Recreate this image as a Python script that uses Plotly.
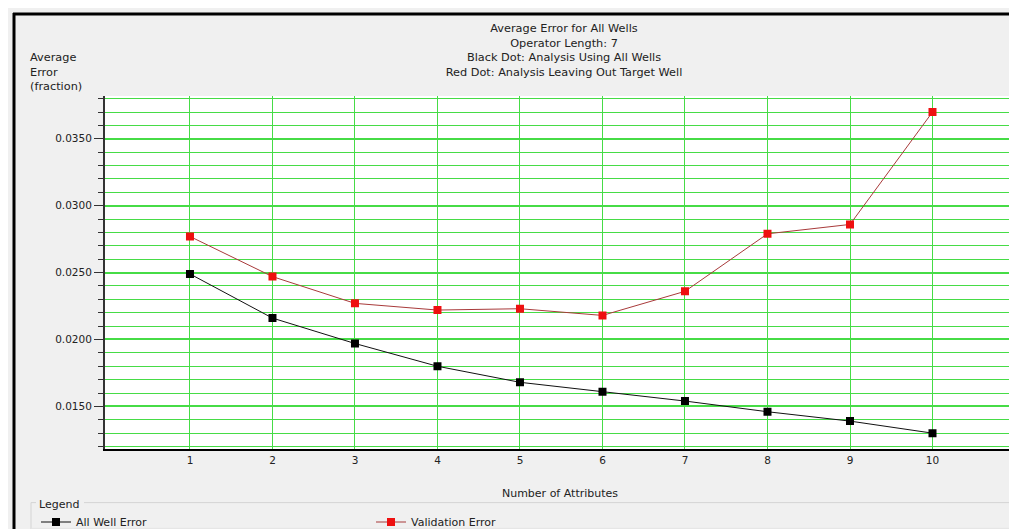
import plotly.graph_objects as go

# ---- data ----
attributes = [1, 2, 3, 4, 5, 6, 7, 8, 9, 10]
all_well_error = [0.0249, 0.0216, 0.0197, 0.0180, 0.0168, 0.0161, 0.0154, 0.0146, 0.0139, 0.0130]
validation_error = [0.0277, 0.0247, 0.0227, 0.0222, 0.0223, 0.0218, 0.0236, 0.0279, 0.0286, 0.0370]
y_tick_vals = [0.015, 0.020, 0.025, 0.030, 0.035]
y_tick_text = ["0.0150", "0.0200", "0.0250", "0.0300", "0.0350"]
title_lines = ["Average Error for All Wells", "Operator Length: 7",
               "Black Dot: Analysis Using All Wells",
               "Red Dot: Analysis Leaving Out Target Well"]

# ---- layout geometry (pixels) ----
W, H = 1017, 529
L, R, T, B = 97, 1007, 88, 445
FONT = "DejaVu Sans"
FS = 10.5
FS_T = 11.3
FS_L = 11
GREEN = "#46dc46"


def px(x):
    return (x - L) / (R - L)


def py(y):
    return (B - y) / (B - T)


fig = go.Figure()
fig.add_trace(go.Scatter(
    x=attributes, y=all_well_error, name="All Well Error", mode="lines+markers",
    line=dict(color="#111111", width=1),
    marker=dict(symbol="square", size=8, color="#000000")))
fig.add_trace(go.Scatter(
    x=attributes, y=validation_error, name="Validation Error", mode="lines+markers",
    line=dict(color="#a83a3a", width=1),
    marker=dict(symbol="square", size=8, color="#ee1010")))

shapes = [
    # outer frame
    dict(type="line", xref="paper", yref="paper", x0=px(6), x1=px(6), y0=py(4), y1=py(529),
         line=dict(color="#000", width=3)),
    dict(type="line", xref="paper", yref="paper", x0=px(5), x1=px(1017), y0=py(5), y1=py(5),
         line=dict(color="#000", width=3)),
    # right edge of plot area
    dict(type="line", xref="paper", yref="paper", x0=1, x1=1, y0=0, y1=1,
         line=dict(color="#9ccf9c", width=1)),
    # legend group box
    dict(type="line", xref="paper", yref="paper", x0=px(23), x1=px(28), y0=py(499), y1=py(499),
         line=dict(color="#d4d4d4", width=1)),
    dict(type="line", xref="paper", yref="paper", x0=px(76), x1=px(1010), y0=py(499), y1=py(499),
         line=dict(color="#d4d4d4", width=1)),
    dict(type="line", xref="paper", yref="paper", x0=px(23), x1=px(23), y0=py(499), y1=py(529),
         line=dict(color="#d4d4d4", width=1)),
    dict(type="line", xref="paper", yref="paper", x0=px(23), x1=px(1010), y0=py(525), y1=py(525),
         line=dict(color="#e4e4e4", width=1)),
]

annotations = [
    dict(text="Average<br>Error<br>(fraction)", xref="paper", yref="paper",
         x=px(20), y=py(40), xanchor="left", yanchor="top", align="left", showarrow=False,
         font=dict(family=FONT, size=FS_T, color="#222")),
    dict(text="Legend", xref="paper", yref="paper", x=px(29), y=py(501),
         xanchor="left", yanchor="middle", showarrow=False,
         font=dict(family=FONT, size=FS_L, color="#222")),
]

fig.update_layout(
    width=W, height=H,
    margin=dict(l=L, r=W - R, t=T, b=H - B, pad=0),
    paper_bgcolor="#f0f0f0", plot_bgcolor="#ffffff",
    font=dict(family=FONT, size=FS, color="#222"),
    title=dict(text="<br>".join(title_lines), xref="container", yref="container",
               x=556 / W, xanchor="center", y=1 - 24 / H, yanchor="top",
               font=dict(family=FONT, size=FS_T, color="#222")),
    showlegend=True,
    legend=dict(orientation="h", xref="container", yref="container",
                x=28 / W, y=(H - 514) / H, xanchor="left", yanchor="middle",
                entrywidth=290, entrywidthmode="pixels",
                bgcolor="rgba(0,0,0,0)", font=dict(family=FONT, size=FS_L, color="#222"),
                itemclick=False),
    shapes=shapes, annotations=annotations,
)

fig.update_xaxes(
    range=[-0.03, 11.0], tickvals=attributes, ticks="", showgrid=True,
    gridcolor=GREEN, gridwidth=1, zeroline=False,
    showline=True, linecolor="#000", linewidth=2,
    tickfont=dict(family=FONT, size=FS, color="#222"),
    title=dict(text="Number of Attributes", standoff=24,
               font=dict(family=FONT, size=FS_L, color="#222")),
)
fig.update_yaxes(
    range=[0.0118, 0.0382], tickvals=y_tick_vals, ticktext=y_tick_text,
    ticks="outside", ticklen=9, tickcolor="#333", tickwidth=1,
    showgrid=True, gridcolor=GREEN, gridwidth=2, zeroline=False,
    showline=True, linecolor="#333", linewidth=2,
    minor=dict(dtick=0.001, tick0=0, ticks="outside", ticklen=5, tickcolor="#333",
               showgrid=True, gridcolor=GREEN, gridwidth=1),
    tickfont=dict(family=FONT, size=FS, color="#222"),
)

fig.write_html("out.html")
